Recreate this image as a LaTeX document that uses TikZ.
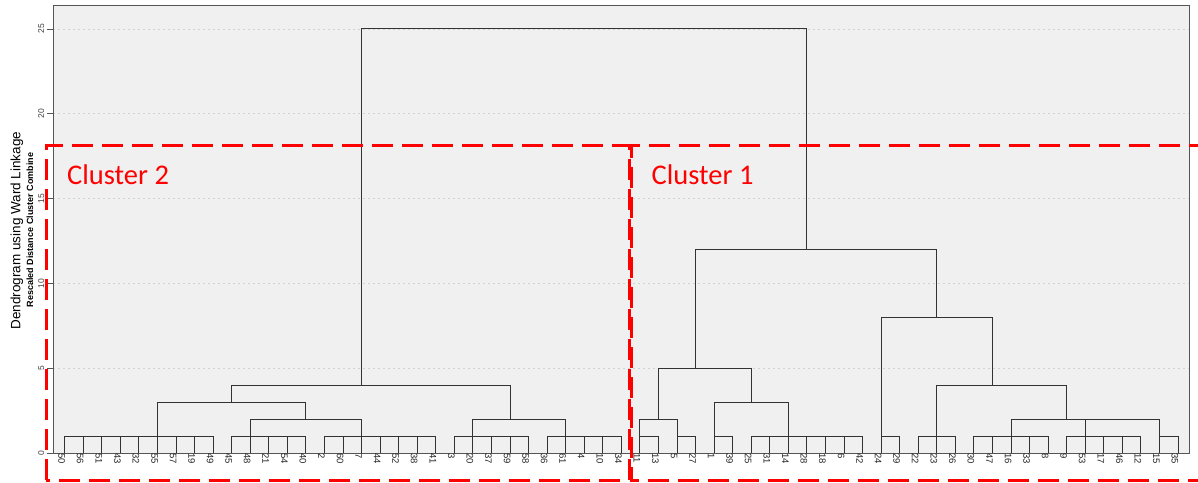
\documentclass[tikz,border=0pt]{standalone}
\usepackage{fontspec}
\setmainfont{Liberation Sans}
\newfontfamily\carlito{Carlito}
\definecolor{plotbg}{HTML}{F0F0F0}
\definecolor{gridc}{HTML}{D2D2D2}
\definecolor{axisc}{HTML}{555555}
\definecolor{treec}{HTML}{333333}
\definecolor{clred}{HTML}{FF0000}
\begin{document}
\begin{tikzpicture}[x=1pt,y=1pt,
  tree/.style={treec, line width=1pt},
  leaflab/.style={font=\fontsize{9.5}{10}\selectfont, text=black!85, rotate=-90, anchor=west, inner sep=0pt},
  ticklab/.style={font=\fontsize{8.5}{9}\selectfont, text=black!75, rotate=90, anchor=south, inner sep=0pt},
  clbox/.style={clred, line width=3pt, dash pattern=on 21pt off 9pt},
  cltext/.style={font=\carlito\fontsize{28.5}{30}\selectfont, text=clred, anchor=base west, inner sep=0pt},
]
\useasboundingbox (0,0) rectangle (1198,482);
% plot area
\fill[plotbg] (53,29) rectangle (1189,476);
\foreach \h in {5,10,15,20,25}
  \draw[gridc, line width=0.8pt, dash pattern=on 2pt off 3pt] (53,{29+16.96*\h}) -- (1189,{29+16.96*\h});
\draw[axisc, line width=1pt] (53,29) rectangle (1189,476);
% y ticks
\foreach \h in {0,5,10,15,20,25}{
  \draw[axisc, line width=0.8pt] (47,{29+16.96*\h}) -- (53,{29+16.96*\h});
  \node[ticklab] (tick\h) at (44.5,{29+16.96*\h}) {\h};
}
% axis titles
\node[rotate=90, inner sep=0pt, font=\fontsize{13.5}{15}\selectfont] (ytitle) at (17,251.5) {Dendrogram using Ward Linkage};
\node[rotate=90, inner sep=0pt, font=\bfseries\fontsize{9}{10}\selectfont] (ysub) at (30,252) {Rescaled Distance Cluster Combine};
% dendrogram
\begin{scope}[shift={(64.7,29)}, x=18.555pt, y=16.96pt]
\foreach \lab [count=\i from 0] in {50,56,51,43,32,55,57,19,49,45,48,21,54,40,2,60,7,44,52,38,41,3,20,37,59,58,36,61,4,10,34,11,13,5,27,1,39,25,31,14,28,18,6,42,24,29,22,23,26,30,47,16,33,8,9,53,17,46,12,15,35}{
  \draw[tree] (\i,0) -- (\i,1);
  \node[leaflab, yshift=-3pt] (leaf\lab) at (\i,0) {\lab};
}
\foreach \a/\b in {0/8,9/13,14/20,21/25,26/30,31/32,33/34,35/36,37/43,44/45,46/48,49/53,54/58,59/60}
  \draw[tree] (\a,1) -- (\b,1);
% cluster 2 merges
\draw[tree] (10,1) |- (16,2) -- (16,1);
\draw[tree] (5,1) |- (13,3) -- (13,2);
\draw[tree] (22,1) |- (27,2) -- (27,1);
\draw[tree] (9,3) |- (24,4) -- (24,2);
% cluster 1 merges
\draw[tree] (31,1) |- (33,2) -- (33,1);
\draw[tree] (35,1) |- (39,3) -- (39,1);
\draw[tree] (32,2) |- (37,5) -- (37,3);
\draw[tree] (51,1) |- (59,2) -- (59,1);
\draw[tree] (55,1) -- (55,2);
\draw[tree] (47,1) |- (54,4) -- (54,2);
\draw[tree] (44,1) |- (50,8) -- (50,4);
\draw[tree] (34,5) |- (47,12) -- (47,8);
% root
\draw[tree] (16,4) |- (40,25) -- (40,12);
\end{scope}
% cluster boxes
\draw[clbox] (46,2) -- (46,336) -- (629,336) -- (629,2) -- cycle;
\draw[clbox, dash phase=12pt] (1198,336) -- (631,336) -- (631,2) -- (1198,2);
\node[cltext] (c2) at (67,297) {Cluster 2};
\node[cltext] (c1) at (651.5,297.7) {Cluster 1};
\end{tikzpicture}
\end{document}
